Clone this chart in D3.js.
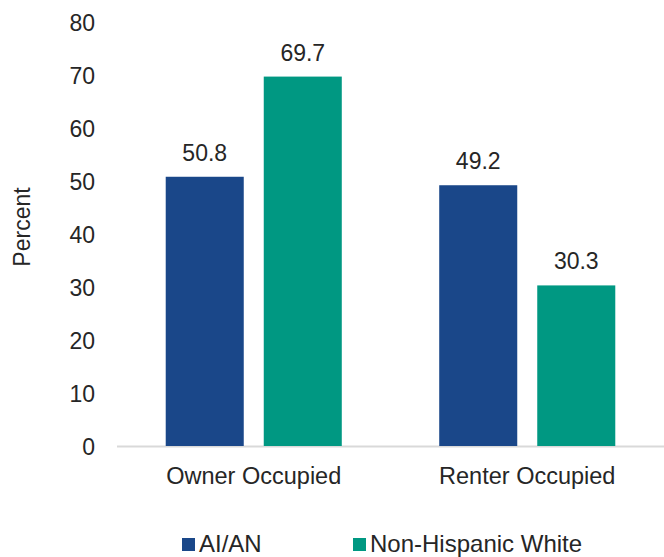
<html>
<head>
<script src="https://cdnjs.cloudflare.com/ajax/libs/d3/7.8.5/d3.min.js"></script>
<style>
body { margin: 0; background: white; }
svg { font-family: "Liberation Sans", Arial, sans-serif; }
</style>
</head>
<body>
<svg id="canvas" width="664" height="557"></svg>
<script>
var categories = ["Owner Occupied", "Renter Occupied"];
var seriesNames = ["AI/AN", "Non-Hispanic White"];
var aian = [50.8, 49.2];
var white = [69.7, 30.3];
var yTicks = [0, 10, 20, 30, 40, 50, 60, 70, 80];
var colors = ["#1a4789", "#009882"];

var svg = d3.select("#canvas");
var plotLeft = 117, plotRight = 664, plotTop = 22, plotBottom = 446;

var x = d3.scaleBand().domain(categories).range([plotLeft, plotRight]).paddingInner(0).paddingOuter(0);
var xs = d3.scaleBand().domain(seriesNames).range([0, x.bandwidth()]).paddingInner(0.204).paddingOuter(0.497);
var y = d3.scaleLinear().domain([0, 80]).range([plotBottom, plotTop]);

// y tick labels
var yAxis = d3.axisLeft(y).tickValues(yTicks).tickSize(0).tickPadding(0);
var gy = svg.append("g").attr("transform", "translate(95,0)").call(yAxis);
gy.select(".domain").remove();
gy.selectAll("text").attr("font-size", 23).attr("fill", "#262626")
  .attr("font-family", "Liberation Sans, Arial, sans-serif").attr("dy", "0.36em");

// baseline
svg.append("line").attr("x1", plotLeft).attr("x2", plotRight).attr("y1", y(0) + 0.5).attr("y2", y(0) + 0.5)
  .attr("stroke", "#d9d9d9").attr("stroke-width", 2);

var rows = categories.map(function (c, i) { return { cat: c, vals: [aian[i], white[i]] }; });

var groups = svg.selectAll("g.grp").data(rows).enter().append("g").attr("class", "grp")
  .attr("transform", function (d) { return "translate(" + x(d.cat) + ",0)"; });

groups.selectAll("rect").data(function (d) { return d.vals.map(function (v, j) { return { v: v, s: seriesNames[j], j: j }; }); })
  .enter().append("rect")
  .attr("x", function (d) { return xs(d.s); })
  .attr("width", xs.bandwidth())
  .attr("y", function (d) { return y(d.v); })
  .attr("height", function (d) { return y(0) - y(d.v); })
  .attr("fill", function (d) { return colors[d.j]; });

groups.selectAll("text.val").data(function (d) { return d.vals.map(function (v, j) { return { v: v, s: seriesNames[j] }; }); })
  .enter().append("text").attr("class", "val")
  .attr("x", function (d) { return xs(d.s) + xs.bandwidth() / 2; })
  .attr("y", function (d) { return y(d.v) - 16; })
  .attr("text-anchor", "middle").attr("font-size", 23).attr("fill", "#262626")
  .text(function (d) { return d.v.toFixed(1); });

// category labels
var xAxis = d3.axisBottom(x).tickSize(0).tickPadding(0);
var gx = svg.append("g").attr("transform", "translate(0,467)").call(xAxis);
gx.select(".domain").remove();
gx.selectAll("text").attr("font-size", 23.5).attr("fill", "#262626")
  .attr("font-family", "Liberation Sans, Arial, sans-serif");

// y title
svg.append("text").attr("transform", "translate(30,227) rotate(-90)")
  .attr("text-anchor", "middle").attr("font-size", 23).attr("fill", "#262626").text("Percent");

// legend
var legX = [182, 353];
var leg = svg.selectAll("g.leg").data(seriesNames).enter().append("g").attr("class", "leg")
  .attr("transform", function (d, i) { return "translate(" + legX[i] + ",538)"; });
leg.append("rect").attr("width", 13).attr("height", 13).attr("fill", function (d, i) { return colors[i]; });
leg.append("text").attr("x", 17).attr("y", 14).attr("font-size", 24).attr("fill", "#262626").text(function (d) { return d; });
</script>
</body>
</html>
